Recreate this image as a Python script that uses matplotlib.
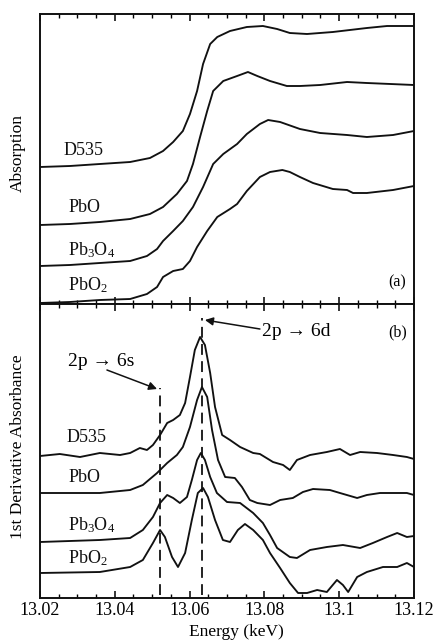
import matplotlib
matplotlib.use("Agg")
import matplotlib.pyplot as plt
from matplotlib.ticker import MultipleLocator, FixedLocator

plt.rcParams['font.family'] = ['Liberation Serif', 'DejaVu Serif']
plt.rcParams['mathtext.fontset'] = 'custom'
plt.rcParams['mathtext.rm'] = 'Liberation Serif'
plt.rcParams['mathtext.it'] = 'Liberation Serif:italic'

# ---------------- Panel (a): absorption ----------------
a_d535_E = [13.0200, 13.0280, 13.0360, 13.0441, 13.0494, 13.0529, 13.0556, 13.0582, 13.0601,
            13.0620, 13.0636, 13.0655, 13.0674, 13.0708, 13.0753, 13.0796, 13.0834, 13.0868,
            13.0914, 13.0983, 13.1074, 13.1128, 13.1200]
a_d535_y = [137, 138, 140, 142, 146, 153, 162, 173, 190, 213, 240, 260, 267, 273, 277, 278,
            275, 271, 270, 272, 276, 278, 278]

a_pbo_E = [13.0200, 13.0280, 13.0360, 13.0441, 13.0494, 13.0529, 13.0566, 13.0593, 13.0609,
           13.0628, 13.0647, 13.0663, 13.0690, 13.0727, 13.0756, 13.0781, 13.0815, 13.0860,
           13.0895, 13.0949, 13.1021, 13.1074, 13.1200]
a_pbo_y = [79, 80, 82, 85, 90, 97, 110, 123, 140, 167, 193, 213, 223, 228, 232, 228, 223, 218,
           218, 219, 222, 221, 219]

a_pb3o4_E = [13.0200, 13.0280, 13.0360, 13.0441, 13.0486, 13.0513, 13.0529, 13.0556, 13.0582,
             13.0609, 13.0636, 13.0663, 13.0690, 13.0727, 13.0753, 13.0788, 13.0810, 13.0842,
             13.0895, 13.0949, 13.1021, 13.1074, 13.1144, 13.1200]
a_pb3o4_y = [38, 39, 41, 43, 48, 55, 63, 73, 83, 97, 117, 140, 150, 160, 170, 180, 184, 182,
             175, 171, 169, 167, 169, 173]

a_pbo2_E = [13.0200, 13.0280, 13.0360, 13.0441, 13.0486, 13.0513, 13.0529, 13.0556, 13.0582,
            13.0601, 13.0620, 13.0647, 13.0674, 13.0708, 13.0727, 13.0753, 13.0788, 13.0815,
            13.0848, 13.0868, 13.0895, 13.0930, 13.0983, 13.1021, 13.1037, 13.1074, 13.1144,
            13.1200]
a_pbo2_y = [1, 2, 4, 5, 10, 17, 27, 33, 35, 43, 57, 73, 87, 95, 100, 113, 127, 132, 134, 132,
            127, 121, 115, 114, 111, 111, 114, 118]

# ---------------- Panel (b): first derivative ----------------
b_d535_E = [13.0200, 13.0253, 13.0307, 13.0360, 13.0414, 13.0441, 13.0467, 13.0486, 13.0502,
            13.0521, 13.0540, 13.0556, 13.0574, 13.0588, 13.0601, 13.0614, 13.0628, 13.0641,
            13.0655, 13.0668, 13.0687, 13.0708, 13.0735, 13.0770, 13.0788, 13.0823, 13.0850,
            13.0868, 13.0887, 13.0922, 13.0967, 13.1002, 13.1029, 13.1056, 13.1101, 13.1144,
            13.1181, 13.1200]
b_d535_y = [142, 144, 141, 145, 143, 145, 150, 148, 153, 163, 175, 178, 183, 195, 221, 248, 261,
            253, 225, 191, 163, 158, 151, 145, 144, 136, 133, 128, 138, 143, 146, 149, 143, 146,
            145, 143, 141, 139]

b_pbo_E = [13.0200, 13.0360, 13.0441, 13.0475, 13.0513, 13.0540, 13.0566, 13.0582, 13.0601,
           13.0620, 13.0633, 13.0647, 13.0660, 13.0676, 13.0695, 13.0721, 13.0740, 13.0761,
           13.0781, 13.0815, 13.0842, 13.0876, 13.0903, 13.0930, 13.0975, 13.1002, 13.1048,
           13.1074, 13.1109, 13.1144, 13.1181, 13.1200]
b_pbo_y = [105, 105, 108, 113, 125, 135, 143, 151, 171, 198, 211, 201, 168, 138, 121, 120, 111,
           98, 95, 93, 98, 100, 106, 109, 108, 105, 100, 103, 105, 105, 105, 103]

b_pb3o4_E = [13.0200, 13.0360, 13.0441, 13.0475, 13.0502, 13.0521, 13.0540, 13.0556, 13.0574,
             13.0593, 13.0606, 13.0620, 13.0630, 13.0641, 13.0655, 13.0673, 13.0700, 13.0735,
             13.0770, 13.0796, 13.0815, 13.0834, 13.0868, 13.0887, 13.0922, 13.0967, 13.1010,
             13.1056, 13.1090, 13.1128, 13.1155, 13.1181, 13.1200]
b_pb3o4_y = [56, 58, 60, 68, 81, 95, 103, 100, 95, 101, 118, 138, 145, 138, 121, 105, 96, 95,
             85, 75, 63, 50, 41, 40, 48, 51, 53, 50, 55, 61, 65, 61, 62]

b_pbo2_E = [13.0200, 13.0360, 13.0441, 13.0475, 13.0502, 13.0521, 13.0534, 13.0553, 13.0569,
            13.0588, 13.0606, 13.0622, 13.0636, 13.0649, 13.0668, 13.0689, 13.0708, 13.0729,
            13.0748, 13.0770, 13.0796, 13.0815, 13.0842, 13.0868, 13.0890, 13.0914, 13.0941,
            13.0967, 13.0994, 13.1010, 13.1024, 13.1048, 13.1074, 13.1117, 13.1155, 13.1181,
            13.1200]
b_pbo2_y = [25, 26, 31, 38, 55, 68, 61, 41, 31, 45, 78, 105, 110, 101, 78, 58, 56, 68, 74, 68,
            58, 45, 30, 15, 5, 5, 8, 6, 18, 13, 6, 21, 26, 31, 31, 35, 31]

sample_labels = ['D535', 'PbO', r'Pb$_3$O$_4$', r'PbO$_2$']
a_label_y = [154, 97, 54, 19]
b_label_y = [161, 121, 73, 40]

edge_6s = 13.052
edge_6d = 13.0632

xticks = [13.02, 13.04, 13.06, 13.08, 13.10, 13.12]
xtick_labels = ['13.02', '13.04', '13.06', '13.08', '13.1', '13.12']

W, H = 438, 642
fig = plt.figure(figsize=(W / 100, H / 100), dpi=100)
ax_a = fig.add_axes([40 / W, 1 - 304 / H, 374 / W, 290 / H])
ax_b = fig.add_axes([40 / W, 1 - 598 / H, 374 / W, 294 / H])

lw = 1.35
col = '#111111'

a_series = [(a_d535_E, a_d535_y), (a_pbo_E, a_pbo_y), (a_pb3o4_E, a_pb3o4_y), (a_pbo2_E, a_pbo2_y)]
b_series = [(b_d535_E, b_d535_y), (b_pbo_E, b_pbo_y), (b_pb3o4_E, b_pb3o4_y), (b_pbo2_E, b_pbo2_y)]

for E, y in a_series:
    ax_a.plot(E, y, color=col, lw=lw, solid_joinstyle='round')
for E, y in b_series:
    ax_b.plot(E, y, color=col, lw=lw, solid_joinstyle='round')

fs = 13
a_label_x = [13.0262, 13.0275, 13.0275, 13.0275]
for lab, x, y in zip(sample_labels, a_label_x, a_label_y):
    ax_a.text(x, y, lab, fontsize=fs, ha='left', va='center', color=col)
b_label_x = [13.0270, 13.0275, 13.0275, 13.0275]
for lab, x, y in zip(sample_labels, b_label_x, b_label_y):
    ax_b.text(x, y, lab, fontsize=fs, ha='left', va='center', color=col)

ax_a.text(0.955, 0.076, '(a)', transform=ax_a.transAxes, fontsize=fs - 1.5, ha='center', va='center')
ax_b.text(0.955, 0.905, '(b)', transform=ax_b.transAxes, fontsize=fs - 1.5, ha='center', va='center')

# dashed transition markers
ax_b.vlines(edge_6s, 3, 210, colors=col, linestyles=(0, (6, 3.5)), lw=1.3)
ax_b.vlines(edge_6d, 3, 280, colors=col, linestyles=(0, (6, 3.5)), lw=1.3)

arrow_kw = dict(arrowstyle='-|>', color=col, lw=1.1, mutation_scale=12, shrinkA=0, shrinkB=0)
ax_b.annotate('', xy=(13.0641, 278), xytext=(13.0788, 269), arrowprops=arrow_kw)
ax_b.annotate('', xy=(13.0513, 209), xytext=(13.0379, 228), arrowprops=arrow_kw)
ax_b.text(13.0794, 267, '2p → 6d', fontsize=fs + 1, ha='left', va='center')
ax_b.text(13.0275, 237, '2p → 6s', fontsize=fs + 1, ha='left', va='center')

for ax, ylim in ((ax_a, (0, 290)), (ax_b, (0, 294))):
    ax.set_xlim(13.02, 13.12)
    ax.set_ylim(*ylim)
    ax.xaxis.set_major_locator(FixedLocator(xticks))
    ax.xaxis.set_minor_locator(MultipleLocator(0.005))
    ax.tick_params(axis='x', which='both', direction='in', top=True, bottom=True)
    ax.tick_params(axis='x', which='major', length=5, width=1.1)
    ax.tick_params(axis='x', which='minor', length=3, width=1.0)
    ax.set_yticks([])
    for s in ax.spines.values():
        s.set_linewidth(1.4)
        s.set_color(col)

ax_a.set_xticklabels([])
ax_b.set_xticklabels(xtick_labels, fontsize=fs)
ax_b.tick_params(axis='x', pad=3)

fig.text(18 / W, 1 - 153 / H, 'Absorption', rotation=90, ha='center', va='center', fontsize=fs - 0.5)
fig.text(18 / W, 1 - 447 / H, '1st Derivative Absorbance', rotation=90, ha='center', va='center', fontsize=fs - 0.5)
fig.text(236 / W, 1 - 632 / H, 'Energy (keV)', ha='center', va='center', fontsize=fs - 0.5)

fig.savefig('out.png', dpi=100)
